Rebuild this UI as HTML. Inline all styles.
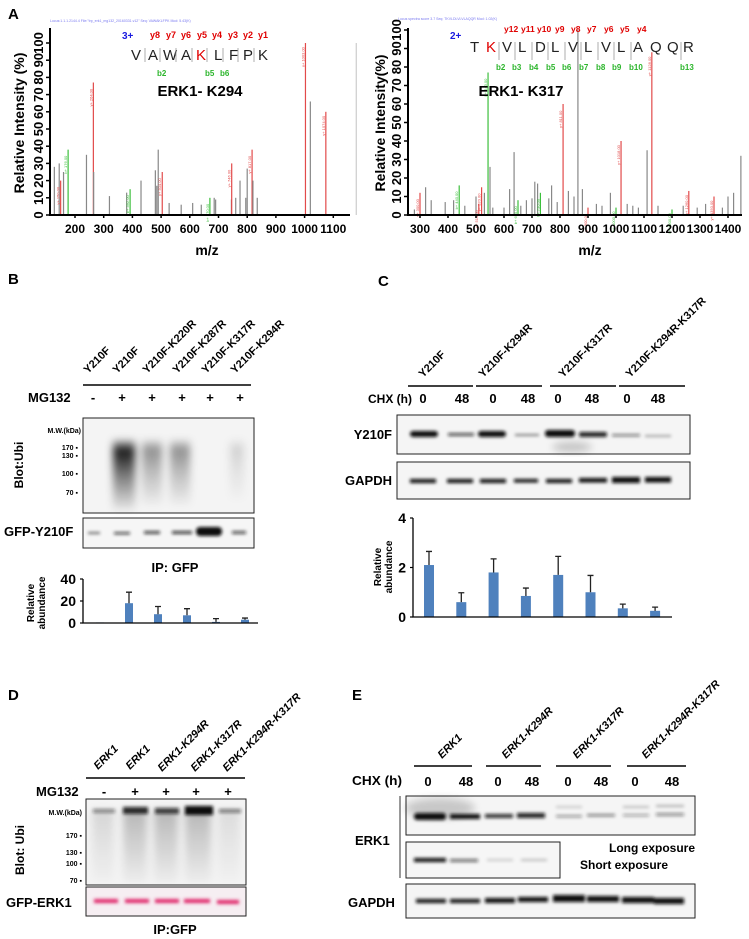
<!DOCTYPE html>
<html><head><meta charset="utf-8">
<style>
html,body{margin:0;padding:0;background:#fff;}
svg{display:block;font-family:"Liberation Sans",Arial,sans-serif;}
.b{font-weight:bold;}
.n{font-family:"Liberation Sans Narrow","Liberation Sans",sans-serif;font-weight:bold;}
</style></head>
<body>
<svg id="fig" width="749" height="939" viewBox="0 0 749 939" xmlns="http://www.w3.org/2000/svg">
<defs>
<filter id="bl1" x="-50%" y="-200%" width="200%" height="500%"><feGaussianBlur stdDeviation="1.6"/></filter>
<filter id="bl2" x="-50%" y="-50%" width="200%" height="200%"><feGaussianBlur stdDeviation="4"/></filter>
<linearGradient id="smear" x1="0" y1="0" x2="0" y2="1">
<stop offset="0" stop-color="#000" stop-opacity="0.2"/><stop offset="0.15" stop-color="#000" stop-opacity="0.9"/>
<stop offset="0.5" stop-color="#000" stop-opacity="0.5"/><stop offset="1" stop-color="#000" stop-opacity="0.05"/></linearGradient>
<linearGradient id="smearD" x1="0" y1="0" x2="0" y2="1">
<stop offset="0" stop-color="#000" stop-opacity="0.25"/><stop offset="1" stop-color="#000" stop-opacity="0.03"/></linearGradient>
</defs>

<!-- PANEL A -->
<text x="8" y="19" font-size="15" class="b">A</text>
<g id="specL"></g>
<g id="specR"></g>
<text x="50" y="22" font-size="3.5" fill="#7a7af0">Locus:1.1.1.2144.4 File:"trp_erk1_mg132_20160331.v12" Seq: VAWAKLFPK Mod: 5.43(K)</text>
<text x="398" y="20" font-size="3.5" fill="#7a7af0">Locus spectra score 3.7 Seq: TKVLDLVLVLAQQR Mod: 1.02(K)</text>

<text transform="translate(24,123) rotate(-90)" font-size="14" class="b" text-anchor="middle">Relative Intensity (%)</text>
<text x="207" y="255" font-size="14" class="b" text-anchor="middle">m/z</text>
<text transform="translate(385,123) rotate(-90)" font-size="14" class="b" text-anchor="middle">Relative Intensity(%)</text>
<text x="590" y="255" font-size="14" class="b" text-anchor="middle">m/z</text>

<g>
<text x="122" y="39" font-size="10" class="b" fill="#1a1ae0">3+</text>
<text font-size="15" y="60" fill="#222"><tspan x="131">V</tspan><tspan x="148">A</tspan><tspan x="163">W</tspan><tspan x="181">A</tspan><tspan x="196" fill="#e00000">K</tspan><tspan x="214">L</tspan><tspan x="229">F</tspan><tspan x="243">P</tspan><tspan x="258">K</tspan></text>
<text font-size="9" y="38" fill="#e00000" class="b"><tspan x="150">y8</tspan><tspan x="166">y7</tspan><tspan x="181">y6</tspan><tspan x="197">y5</tspan><tspan x="212">y4</tspan><tspan x="228">y3</tspan><tspan x="243">y2</tspan><tspan x="258">y1</tspan></text>
<text font-size="8" y="76" fill="#2bb52b" class="b"><tspan x="157">b2</tspan><tspan x="205">b5</tspan><tspan x="220">b6</tspan></text>
<path d="M145 48v14M160 48v14M176 48v14M192 48v14M207 48v14M223 48v14M238 48v14M254 48v14" stroke="#999" stroke-width="0.8"/>
<text x="200" y="96" font-size="15" class="b" text-anchor="middle">ERK1- K294</text>
</g>
<g>
<text x="450" y="39" font-size="10" class="b" fill="#1a1ae0">2+</text>
<text font-size="15" y="52" fill="#222"><tspan x="470">T</tspan><tspan x="486" fill="#e00000">K</tspan><tspan x="502">V</tspan><tspan x="518">L</tspan><tspan x="535">D</tspan><tspan x="551">L</tspan><tspan x="568">V</tspan><tspan x="584">L</tspan><tspan x="601">V</tspan><tspan x="617">L</tspan><tspan x="633">A</tspan><tspan x="650">Q</tspan><tspan x="667">Q</tspan><tspan x="683">R</tspan></text>
<text font-size="8.5" y="32" fill="#e00000" class="b"><tspan x="504">y12</tspan><tspan x="521">y11</tspan><tspan x="537">y10</tspan><tspan x="555">y9</tspan><tspan x="571">y8</tspan><tspan x="587">y7</tspan><tspan x="604">y6</tspan><tspan x="620">y5</tspan><tspan x="637">y4</tspan></text>
<text font-size="8" y="70" fill="#2bb52b" class="b"><tspan x="496">b2</tspan><tspan x="512">b3</tspan><tspan x="529">b4</tspan><tspan x="546">b5</tspan><tspan x="562">b6</tspan><tspan x="579">b7</tspan><tspan x="596">b8</tspan><tspan x="612">b9</tspan><tspan x="629">b10</tspan><tspan x="680">b13</tspan></text>
<path d="M499 42v18M515 42v18M532 42v18M548 42v18M565 42v18M581 42v18M598 42v18M614 42v18M631 42v18M681 42v18" stroke="#999" stroke-width="0.8"/>
<text x="521" y="96" font-size="15" class="b" text-anchor="middle">ERK1- K317</text>
</g>

<!-- PANEL B -->
<text x="8" y="284" font-size="15" class="b">B</text>
<g class="n" font-size="11">
<text transform="translate(88,374) rotate(-45)">Y210F</text>
<text transform="translate(117,374) rotate(-45)">Y210F</text>
<text transform="translate(147,374) rotate(-45)">Y210F-K220R</text>
<text transform="translate(177,374) rotate(-45)">Y210F-K287R</text>
<text transform="translate(206,374) rotate(-45)">Y210F-K317R</text>
<text transform="translate(235,374) rotate(-45)">Y210F-K294R</text>
</g>
<line x1="83" y1="385" x2="251" y2="385" stroke="#000" stroke-width="1.5"/>
<text x="28" y="402" font-size="13" class="n">MG132</text>
<g font-size="13" class="b" text-anchor="middle">
<text x="93" y="402">-</text><text x="122" y="402">+</text><text x="152" y="402">+</text><text x="182" y="402">+</text><text x="210" y="402">+</text><text x="240" y="402">+</text></g>
<g>
<rect x="83" y="418" width="171" height="95" fill="#f4f4f4" stroke="#222" stroke-width="1"/>
<g filter="url(#bl2)">
<rect x="113" y="440" width="22" height="70" fill="url(#smear)"/>
<rect x="142" y="440" width="20" height="65" fill="url(#smear)" opacity="0.45"/>
<rect x="170" y="440" width="20" height="65" fill="url(#smear)" opacity="0.45"/>
<rect x="230" y="440" width="14" height="60" fill="url(#smear)" opacity="0.15"/>
</g>
</g>
<g font-size="7" class="n" text-anchor="end">
<text x="81" y="433">M.W.(kDa)</text><text x="78" y="450">170 ▪</text><text x="78" y="458">130 ▪</text><text x="78" y="476">100 ▪</text><text x="78" y="495">70 ▪</text></g>
<text transform="translate(23,465) rotate(-90)" font-size="12" class="n" text-anchor="middle">Blot:Ubi</text>
<g>
<rect x="83" y="518" width="171" height="30" fill="#f6f6f6" stroke="#222" stroke-width="1"/>
<g filter="url(#bl1)" fill="#111">
<rect x="88" y="532" width="12" height="2" opacity="0.6"/><rect x="114" y="532" width="16" height="2.5" opacity="0.7"/>
<rect x="144" y="531" width="16" height="3" opacity="0.75"/><rect x="172" y="531" width="20" height="3" opacity="0.8"/>
<rect x="196" y="527" width="26" height="9" rx="4"/><rect x="232" y="531" width="14" height="3" opacity="0.7"/></g>
</g>
<text x="4" y="536" font-size="13" class="n">GFP-Y210F</text>
<text x="175" y="572" font-size="13" class="n" text-anchor="middle">IP: GFP</text>
<g id="barB"></g>
<text transform="translate(34,603) rotate(-90)" font-size="10" class="b" text-anchor="middle">Relative</text>
<text transform="translate(45,603) rotate(-90)" font-size="10" class="b" text-anchor="middle">abundance</text>

<!-- PANEL C -->
<text x="378" y="286" font-size="15" class="b">C</text>
<g class="n" font-size="11">
<text transform="translate(423,378) rotate(-45)">Y210F</text>
<text transform="translate(483,378) rotate(-45)">Y210F-K294R</text>
<text transform="translate(563,378) rotate(-45)">Y210F-K317R</text>
<text transform="translate(630,378) rotate(-45)">Y210F-K294R-K317R</text>
</g>
<g stroke="#000" stroke-width="1.5">
<line x1="408" y1="386" x2="473" y2="386"/><line x1="476" y1="386" x2="542" y2="386"/><line x1="550" y1="386" x2="616" y2="386"/><line x1="619" y1="386" x2="685" y2="386"/></g>
<text x="368" y="403" font-size="12" class="n" textLength="44" lengthAdjust="spacingAndGlyphs">CHX (h)</text>
<g font-size="13" class="n" text-anchor="middle">
<text x="423" y="403">0</text><text x="462" y="403">48</text><text x="493" y="403">0</text><text x="528" y="403">48</text><text x="558" y="403">0</text><text x="592" y="403">48</text><text x="627" y="403">0</text><text x="658" y="403">48</text></g>
<text x="392" y="439" font-size="13" class="n" text-anchor="end">Y210F</text>
<text x="392" y="485" font-size="13" class="n" text-anchor="end">GAPDH</text>
<g>
<rect x="397" y="415" width="293" height="39" fill="#f5f5f5" stroke="#222" stroke-width="1"/>
<g filter="url(#bl1)" fill="#111">
<rect x="410" y="431" width="28" height="6" rx="3"/><rect x="448" y="433" width="26" height="3" opacity="0.7"/>
<rect x="478" y="431" width="28" height="6" rx="3"/><rect x="515" y="434" width="24" height="2" opacity="0.5"/>
<rect x="545" y="430" width="30" height="7" rx="3"/><rect x="579" y="432" width="28" height="5" rx="2" opacity="0.9"/>
<rect x="612" y="434" width="28" height="2.5" opacity="0.5"/><rect x="645" y="435" width="26" height="2" opacity="0.35"/></g>
<ellipse cx="572" cy="447" rx="20" ry="5" fill="#000" opacity="0.2" filter="url(#bl2)"/>
</g>
<g>
<rect x="397" y="462" width="293" height="37" fill="#f5f5f5" stroke="#222" stroke-width="1"/>
<g filter="url(#bl1)" fill="#111">
<rect x="410" y="479" width="26" height="4"/><rect x="447" y="479" width="26" height="4"/><rect x="480" y="479" width="26" height="4"/><rect x="514" y="479" width="24" height="3.5"/><rect x="546" y="479" width="26" height="4"/><rect x="579" y="478" width="28" height="4.5"/><rect x="612" y="477" width="28" height="6"/><rect x="645" y="477" width="26" height="5.5"/></g>
</g>
<g id="barC"></g>
<text transform="translate(381,567) rotate(-90)" font-size="10" class="b" text-anchor="middle">Relative</text>
<text transform="translate(392,567) rotate(-90)" font-size="10" class="b" text-anchor="middle">abundance</text>

<!-- PANEL D -->
<text x="8" y="700" font-size="15" class="b">D</text>
<g class="n" font-size="11" font-style="italic">
<text transform="translate(98,770) rotate(-45)">ERK1</text>
<text transform="translate(130,770) rotate(-45)">ERK1</text>
<text transform="translate(162,772) rotate(-45)">ERK1-K294R</text>
<text transform="translate(195,772) rotate(-45)">ERK1-K317R</text>
<text transform="translate(227,772) rotate(-45)">ERK1-K294R-K317R</text>
</g>
<line x1="86" y1="778" x2="245" y2="778" stroke="#000" stroke-width="1.5"/>
<text x="36" y="796" font-size="13" class="n">MG132</text>
<g font-size="13" class="b" text-anchor="middle">
<text x="104" y="796">-</text><text x="135" y="796">+</text><text x="166" y="796">+</text><text x="196" y="796">+</text><text x="228" y="796">+</text></g>
<g>
<rect x="86" y="799" width="160" height="86" fill="#f4f4f4" stroke="#222" stroke-width="1"/>
<g filter="url(#bl2)">
<rect x="92" y="810" width="22" height="72" fill="url(#smearD)" opacity="0.5"/>
<rect x="123" y="810" width="24" height="72" fill="url(#smearD)"/>
<rect x="154" y="810" width="24" height="72" fill="url(#smearD)"/>
<rect x="185" y="810" width="26" height="72" fill="url(#smearD)"/>
<rect x="218" y="810" width="22" height="72" fill="url(#smearD)" opacity="0.4"/></g>
<g filter="url(#bl1)" fill="#111">
<rect x="93" y="809" width="22" height="4" opacity="0.45"/><rect x="123" y="807" width="25" height="7" opacity="0.85"/>
<rect x="155" y="808" width="24" height="6" opacity="0.75"/><rect x="185" y="806" width="28" height="9"/>
<rect x="219" y="809" width="22" height="4" opacity="0.5"/></g>
</g>
<g font-size="7" class="n" text-anchor="end">
<text x="82" y="815">M.W.(kDa)</text><text x="82" y="838">170 ▪</text><text x="82" y="855">130 ▪</text><text x="82" y="866">100 ▪</text><text x="82" y="883">70 ▪</text></g>
<text transform="translate(24,850) rotate(-90)" font-size="12" class="n" text-anchor="middle">Blot: Ubi</text>
<g>
<rect x="86" y="887" width="160" height="29" fill="#f6eef2" stroke="#222" stroke-width="1"/>
<g filter="url(#bl1)" fill="#e0286a">
<rect x="94" y="899" width="24" height="4"/><rect x="125" y="899" width="24" height="4"/><rect x="155" y="899" width="24" height="4"/><rect x="184" y="899" width="26" height="4"/><rect x="217" y="900" width="22" height="4"/></g>
</g>
<text x="6" y="907" font-size="13" class="n">GFP-ERK1</text>
<text x="175" y="934" font-size="13" class="n" text-anchor="middle">IP:GFP</text>

<!-- PANEL E -->
<text x="352" y="700" font-size="15" class="b">E</text>
<g class="n" font-size="11" font-style="italic">
<text transform="translate(442,759) rotate(-45)">ERK1</text>
<text transform="translate(506,759) rotate(-45)">ERK1-K294R</text>
<text transform="translate(577,759) rotate(-45)">ERK1-K317R</text>
<text transform="translate(646,759) rotate(-45)">ERK1-K294R-K317R</text>
</g>
<g stroke="#000" stroke-width="1.5">
<line x1="414" y1="766" x2="472" y2="766"/><line x1="486" y1="766" x2="541" y2="766"/><line x1="556" y1="766" x2="611" y2="766"/><line x1="627" y1="766" x2="686" y2="766"/></g>
<text x="352" y="785" font-size="13" class="n" textLength="50" lengthAdjust="spacingAndGlyphs">CHX (h)</text>
<g font-size="13" class="n" text-anchor="middle">
<text x="428" y="786">0</text><text x="466" y="786">48</text><text x="498" y="786">0</text><text x="532" y="786">48</text><text x="568" y="786">0</text><text x="601" y="786">48</text><text x="635" y="786">0</text><text x="672" y="786">48</text></g>
<line x1="400" y1="796" x2="400" y2="878" stroke="#333" stroke-width="1"/>
<text x="355" y="845" font-size="13" class="n">ERK1</text>
<g>
<rect x="406" y="796" width="289" height="39" fill="#f5f5f5" stroke="#222" stroke-width="1"/>
<ellipse cx="440" cy="808" rx="35" ry="10" fill="#000" opacity="0.18" filter="url(#bl2)"/>
<g filter="url(#bl1)" fill="#111">
<rect x="414" y="813" width="32" height="7" rx="3"/><rect x="450" y="814" width="30" height="5"/>
<rect x="485" y="814" width="28" height="4" opacity="0.85"/><rect x="517" y="813" width="28" height="5" opacity="0.9"/>
<rect x="556" y="815" width="26" height="2.5" opacity="0.4"/><rect x="587" y="814" width="28" height="2.5" opacity="0.5"/>
<rect x="623" y="814" width="26" height="2.5" opacity="0.35"/><rect x="656" y="813" width="28" height="3" opacity="0.45"/>
<rect x="556" y="806" width="26" height="2" opacity="0.2"/><rect x="623" y="806" width="26" height="2" opacity="0.25"/><rect x="656" y="805" width="28" height="2" opacity="0.3"/></g>
</g>
<g>
<rect x="406" y="842" width="154" height="36" fill="#f6f6f6" stroke="#222" stroke-width="1"/>
<g filter="url(#bl1)" fill="#111">
<rect x="414" y="858" width="32" height="4"/><rect x="450" y="859" width="28" height="3" opacity="0.6"/>
<rect x="487" y="859" width="26" height="2" opacity="0.2"/><rect x="521" y="859" width="26" height="2" opacity="0.25"/></g>
</g>
<text x="695" y="852" font-size="12" class="n" text-anchor="end">Long exposure</text>
<text x="580" y="869" font-size="12" class="n">Short exposure</text>
<g>
<rect x="406" y="884" width="289" height="34" fill="#f5f5f5" stroke="#222" stroke-width="1"/>
<g filter="url(#bl1)" fill="#111">
<rect x="416" y="899" width="30" height="4"/><rect x="450" y="899" width="30" height="4"/><rect x="485" y="898" width="30" height="5"/><rect x="518" y="897" width="30" height="5"/>
<rect x="553" y="895" width="32" height="7"/><rect x="587" y="896" width="32" height="6"/><rect x="622" y="897" width="32" height="6"/><rect x="654" y="898" width="30" height="6"/></g>
</g>
<text x="348" y="907" font-size="13" class="n">GAPDH</text>
</svg>

<script>
// ---- Spectrum data ----
const specLMz  = [128,145,150,160,176,240,264,265,320,380,392,430,480,485,490,504,528,570,610,640,670,685,690,745,746,760,775,795,800,817,820,835,1003,1020,1074,1180];
const specLInt = [28,30,20,25,38,35,77,25,11,13,15,20,26,17,38,25,7,6,7,6,10,10,9,9,30,10,20,10,27,38,20,10,100,66,60,100];
const specLCol = ["g","g","r","g","gr","g","r","g","g","g","gr","g","g","g","g","r","g","g","g","g","gr","g","g","g","r","g","g","g","g","r","g","g","r","g","r","l"];
const specLTicks = [200,300,400,500,600,700,800,900,1000,1100];
const specYTicks = [0,10,20,30,40,50,60,70,80,90,100];

const specRMz  = [280,300,320,340,390,420,440,460,500,510,520,530,543,550,560,600,620,636,650,660,680,700,710,720,730,760,770,790,811,830,850,864,880,900,930,950,980,1000,1018,1040,1060,1080,1111,1128,1150,1200,1240,1260,1290,1320,1350,1380,1400,1420,1446];
const specRInt = [3,12,15,8,7,8,16,5,10,6,15,12,77,26,4,4,14,34,8,5,8,9,18,17,12,9,16,7,60,13,10,100,14,4,6,5,12,4,40,6,5,4,35,88,5,3,5,13,4,6,10,4,10,12,32];
const specRCol = ["g","r","g","g","g","g","gr","g","g","r","r","g","gr","g","g","g","g","g","gr","g","g","g","g","g","gr","g","g","g","r","g","g","g","g","r","g","g","g","gr","r","g","g","g","g","r","g","gr","g","r","g","g","r","g","g","g","g"];
const specRTicks = [300,400,500,600,700,800,900,1000,1100,1200,1300,1400];

// ---- Bar chart data ----
const barBValues = [0.5,18,8,7,1,3];
const barBErrors = [0,10,7,6,3,1.5];
const barBTicks  = [0,20,40];
const barCValues = [2.1,0.6,1.8,0.85,1.7,1.0,0.35,0.25];
const barCErrors = [0.55,0.38,0.55,0.32,0.75,0.68,0.17,0.15];
const barCTicks  = [0,2,4];

const NS = "http://www.w3.org/2000/svg";
function mk(tag, attrs, parent){ const e=document.createElementNS(NS,tag); for(const k in attrs) e.setAttribute(k,attrs[k]); parent.appendChild(e); return e; }
const colMap = {g:"#888", r:"#e24a4a", gr:"#3cbf3c", l:"#ccc"};

function drawSpectrum(gid, mzs, ints, cols, ticks, xs, ys, x0, x1, yTop){
  const g=document.getElementById(gid);
  for(let i=0;i<mzs.length;i++){
    const l=mk("line",{x1:xs(mzs[i]),x2:xs(mzs[i]),y1:ys(0),y2:ys(ints[i]),stroke:colMap[cols[i]],"stroke-width":1.2},g);
    
    
    if(cols[i]==="r"||cols[i]==="gr"){
      const t=mk("text",{transform:`translate(${xs(mzs[i])-1},${ys(ints[i])+24}) rotate(-90)`,"font-size":4,fill:colMap[cols[i]]},g);
      t.textContent=(cols[i]==="r"?"y+ ":"b+ ")+mzs[i].toFixed(2);
      
      
    }
  }
  const ax=mk("path",{d:`M${x0} ${yTop}V${ys(0)}H${x1}`,stroke:"#000","stroke-width":2,fill:"none"},g);
  
  
  for(const v of specYTicks){
    const tk=mk("line",{x1:x0-4,x2:x0,y1:ys(v),y2:ys(v),stroke:"#000","stroke-width":1.5},g);
    
    
    const t=mk("text",{transform:`translate(${x0-7},${ys(v)}) rotate(-90)`,"font-size":13,"font-weight":"bold","text-anchor":"middle"},g);
    t.textContent=v;
    
    
  }
  for(const v of ticks){
    const tk=mk("line",{x1:xs(v),x2:xs(v),y1:ys(0),y2:ys(0)+3,stroke:"#000","stroke-width":1.5},g);
    
    
    const t=mk("text",{x:xs(v),y:ys(0)+18,"font-size":12,"font-weight":"bold","text-anchor":"middle"},g);
    t.textContent=v;
    
    
  }
}
drawSpectrum("specL",specLMz,specLInt,specLCol,specLTicks,m=>75+(m-200)*0.287,v=>215-v*1.72,50,350,28);
drawSpectrum("specR",specRMz,specRInt,specRCol,specRTicks,m=>420+(m-300)*0.28,v=>215-v*1.85,408,742,28);

function drawBars(gid, vals, errs, ticks, x0, x1, y0, yTop, maxV, firstX, step, bw, fs){
  const g=document.getElementById(gid);
  const ys=v=>y0-(v/maxV)*(y0-yTop);
  const xs=i=>firstX+i*step;
  for(let i=0;i<vals.length;i++){
    const r=mk("rect",{x:xs(i)-bw/2,y:ys(vals[i]),width:bw,height:y0-ys(vals[i]),fill:"#4f81bd"},g);
    
    
    if(errs[i]>0){
      const e=mk("path",{d:`M${xs(i)} ${ys(vals[i])}V${ys(vals[i]+errs[i])}M${xs(i)-3} ${ys(vals[i]+errs[i])}H${xs(i)+3}`,stroke:"#222","stroke-width":1.3,fill:"none"},g);
      
      
    }
  }
  const ax=mk("path",{d:`M${x0} ${yTop}V${y0}H${x1}`,stroke:"#000","stroke-width":1.3,fill:"none"},g);
  
  
  for(const v of ticks){
    const tk=mk("line",{x1:x0-3,x2:x0,y1:ys(v),y2:ys(v),stroke:"#000","stroke-width":1.2},g);
    
    
    const t=mk("text",{x:x0-7,y:ys(v)+5,"font-size":fs,"font-weight":"bold","text-anchor":"end"},g);
    t.textContent=v;
    
    
  }
}
drawBars("barB",barBValues,barBErrors,barBTicks,83,258,623,579,40,100,29,8,14);
drawBars("barC",barCValues,barCErrors,barCTicks,413,672,617,518,4,429,32.3,10,14);
</script>
</body></html>
